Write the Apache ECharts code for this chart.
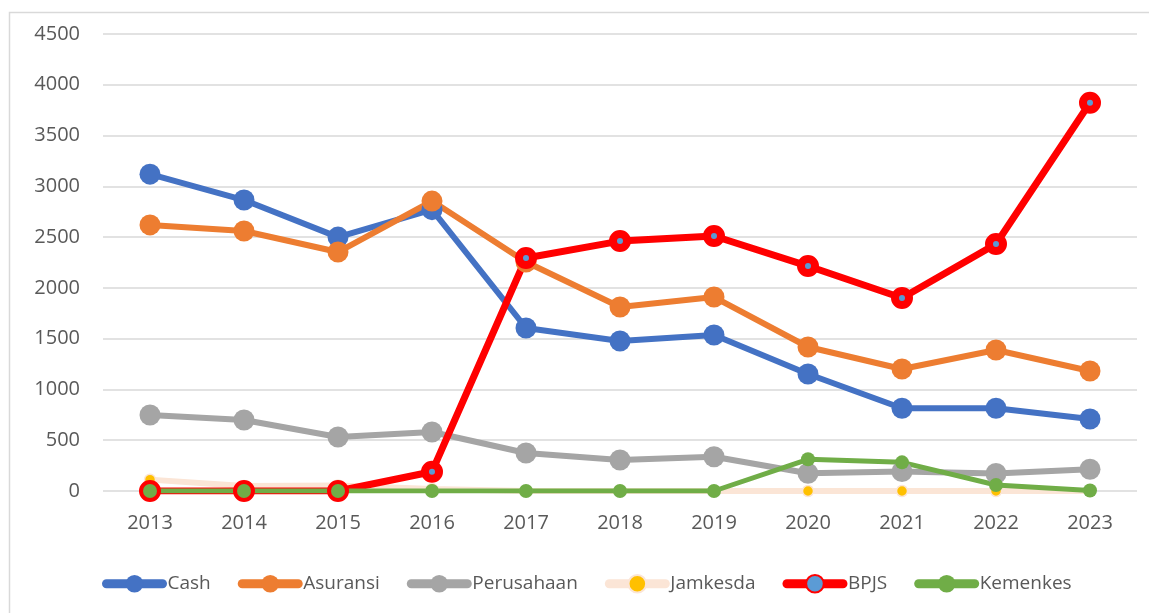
<!DOCTYPE html>
<html>
<head>
<meta charset="utf-8">
<script src="https://cdn.jsdelivr.net/npm/echarts@6/dist/echarts.min.js"></script>
<style>
  html, body { margin: 0; padding: 0; background: #fff; }
  #chart { width: 1149px; height: 613px; }
</style>
</head>
<body>
<div id="chart"></div>
<script>
// data
const years = ['2013', '2014', '2015', '2016', '2017', '2018', '2019', '2020', '2021', '2022', '2023'];
const cash = [3120, 2865, 2500, 2770, 1605, 1477, 1536, 1152, 815, 815, 709];
const asuransi = [2620, 2560, 2353, 2855, 2255, 1812, 1910, 1418, 1201, 1388, 1182];
const perusahaan = [748, 699, 532, 581, 374, 305, 337, 174, 192, 172, 214];
const jamkesda = [112, 50, 55, 20, 0, 0, 0, 0, 0, 0, 0];
const bpjs = [0, 0, 0, 190, 2294, 2461, 2511, 2215, 1900, 2432, 3823];
const kemenkes = [0, 0, 0, 0, 0, 0, 0, 312, 282, 59, 5];

const TXT = '#595959';
const GRID = '#D9D9D9';

function lineSeries(name, data, color, width, size, extra) {
  return Object.assign({
    name: name,
    type: 'line',
    data: data,
    symbol: 'circle',
    symbolSize: size,
    showAllSymbol: true,
    lineStyle: { color: color, width: width },
    itemStyle: { color: color },
    emphasis: { disabled: true }
  }, extra || {});
}

const chart = echarts.init(document.getElementById('chart'));
chart.setOption({
  animation: false,
  textStyle: { fontFamily: 'Open Sans', color: TXT },
  graphic: [{
    type: 'rect',
    silent: true,
    shape: { x: 9.5, y: 12.5, width: 1200, height: 700 },
    style: { fill: 'none', stroke: GRID, lineWidth: 1.5 }
  }],
  grid: { left: 103, right: 12, top: 34, bottom: 122 },
  legend: {
    left: 97,
    top: 569,
    itemWidth: 56,
    itemHeight: 22,
    itemGap: 27,
    lineStyle: { width: 9, cap: 'round' },
    textStyle: { fontSize: 19, color: TXT, fontFamily: 'Open Sans' },
    data: ['Cash', 'Asuransi', 'Perusahaan', 'Jamkesda', 'BPJS', 'Kemenkes']
  },
  xAxis: {
    type: 'category',
    data: years,
    boundaryGap: true,
    axisLine: { show: false },
    axisTick: { show: false },
    axisLabel: { fontSize: 20, color: TXT, margin: 22 }
  },
  yAxis: {
    type: 'value',
    min: 0,
    max: 4500,
    interval: 500,
    axisLine: { show: false },
    axisTick: { show: false },
    axisLabel: { fontSize: 20, color: TXT, margin: 23, formatter: v => String(v) },
    splitLine: { lineStyle: { color: GRID, width: 1.5 } }
  },
  series: [
    lineSeries('Cash', cash, '#4472C4', 6, 21),
    lineSeries('Asuransi', asuransi, '#ED7D31', 6, 21),
    lineSeries('Perusahaan', perusahaan, '#A5A5A5', 6, 21),
    lineSeries('Jamkesda', jamkesda, '#FBE5D6', 6, 11, {
      itemStyle: { color: '#FFC000', borderColor: '#FBE5D6', borderWidth: 1.5 }
    }),
    lineSeries('BPJS', bpjs, '#FF0000', 7, 14, {
      itemStyle: { color: '#5B9BD5', borderColor: '#FF0000', borderWidth: 8 }
    }),
    lineSeries('Kemenkes', kemenkes, '#70AD47', 5, 14)
  ]
});
window.addEventListener('resize', () => chart.resize());
</script>
</body>
</html>
